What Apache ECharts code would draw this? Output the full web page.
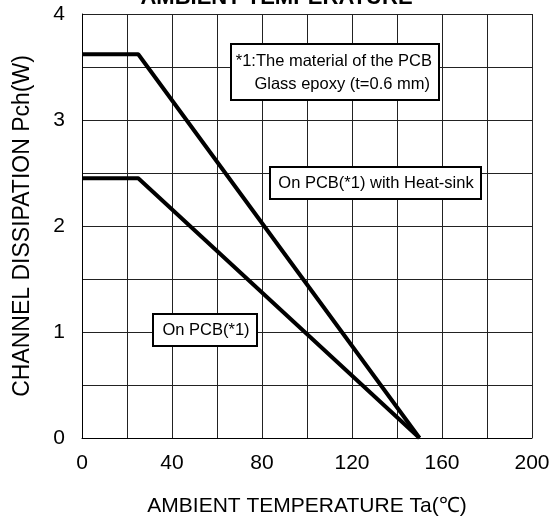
<!DOCTYPE html>
<html>
<head>
<meta charset="utf-8">
<script src="https://cdn.jsdelivr.net/npm/echarts@6/dist/echarts.min.js"></script>
<style>
html,body{margin:0;padding:0;background:#fff;}
#chart{width:553px;height:522px;}
</style>
</head>
<body>
<div id="chart"></div>
<script>
var titleText = 'AMBIENT TEMPERATURE';
var xAxisName = 'AMBIENT TEMPERATURE Ta(\u2103)';
var yAxisName = 'CHANNEL DISSIPATION Pch(W)';
var xTicks = [0, 40, 80, 120, 160, 200];
var yTicks = [0, 1, 2, 3, 4];
var heatSinkTemp = [0, 25, 150];
var heatSinkPower = [3.62, 3.62, 0];
var pcbTemp = [0, 25, 150];
var pcbPower = [2.45, 2.45, 0];
var noteLines = ['*1:The material of the PCB', 'Glass epoxy (t=0.6 mm)'];
var labelHeatSink = 'On PCB(*1) with Heat-sink';
var labelPcb = 'On PCB(*1)';

var FONT = '"Liberation Sans", Arial, sans-serif';
function pairs(xs, ys){ return xs.map(function(x,i){ return [x, ys[i]]; }); }

var chart = echarts.init(document.getElementById('chart'));
chart.setOption({
  backgroundColor: '#fff',
  animation: false,
  title: {
    text: titleText, left: 'center', top: -18,
    textStyle: {fontFamily: FONT, fontSize: 22, fontWeight: 'bold', color: '#000'}
  },
  grid: {left: 82, right: 21, top: 14, bottom: 83},
  xAxis: {
    type: 'value', min: 0, max: 200, interval: 20,
    name: xAxisName, nameLocation: 'middle', nameGap: 58,
    nameTextStyle: {fontFamily: FONT, fontSize: 21, color: '#000'},
    axisLine: {show: true, lineStyle: {color: '#000', width: 1}},
    axisTick: {show: false},
    axisLabel: {
      margin: 15, fontFamily: FONT, fontSize: 21, color: '#000',
      formatter: function(v){ return xTicks.indexOf(v) >= 0 ? String(v) : ''; }
    },
    splitLine: {show: true, lineStyle: {color: '#222', width: 1}}
  },
  yAxis: {
    type: 'value', min: 0, max: 4, interval: 0.5,
    name: yAxisName, nameLocation: 'middle', nameGap: 48,
    nameTextStyle: {fontFamily: FONT, fontSize: 23, color: '#000'},
    axisLine: {show: true, lineStyle: {color: '#000', width: 1}},
    axisTick: {show: false},
    axisLabel: {
      margin: 17, fontFamily: FONT, fontSize: 21, color: '#000',
      formatter: function(v){ return yTicks.indexOf(v) >= 0 ? String(v) : ''; }
    },
    splitLine: {show: true, lineStyle: {color: '#222', width: 1}}
  },
  series: [
    {type: 'line', data: pairs(heatSinkTemp, heatSinkPower), showSymbol: false,
     lineStyle: {color: '#000', width: 4}, z: 5},
    {type: 'line', data: pairs(pcbTemp, pcbPower), showSymbol: false,
     lineStyle: {color: '#000', width: 4}, z: 5}
  ],
  graphic: [
    {type: 'rect', shape: {x: 231, y: 44, width: 208, height: 56}, style: {fill: '#fff', stroke: '#000', lineWidth: 2}, z: 10},
    {type: 'text', style: {text: noteLines[0], x: 432, y: 61, align: 'right', verticalAlign: 'middle', font: '16.5px ' + FONT, fill: '#000'}, z: 11},
    {type: 'text', style: {text: noteLines[1], x: 430, y: 84, align: 'right', verticalAlign: 'middle', font: '16.5px ' + FONT, fill: '#000'}, z: 11},
    {type: 'rect', shape: {x: 270, y: 167, width: 211, height: 32}, style: {fill: '#fff', stroke: '#000', lineWidth: 2}, z: 10},
    {type: 'text', style: {text: labelHeatSink, x: 376, y: 183, align: 'center', verticalAlign: 'middle', font: '16.5px ' + FONT, fill: '#000'}, z: 11},
    {type: 'rect', shape: {x: 153, y: 314, width: 104, height: 32}, style: {fill: '#fff', stroke: '#000', lineWidth: 2}, z: 10},
    {type: 'text', style: {text: labelPcb, x: 206, y: 330, align: 'center', verticalAlign: 'middle', font: '16.5px ' + FONT, fill: '#000'}, z: 11}
  ]
});
</script>
</body>
</html>
